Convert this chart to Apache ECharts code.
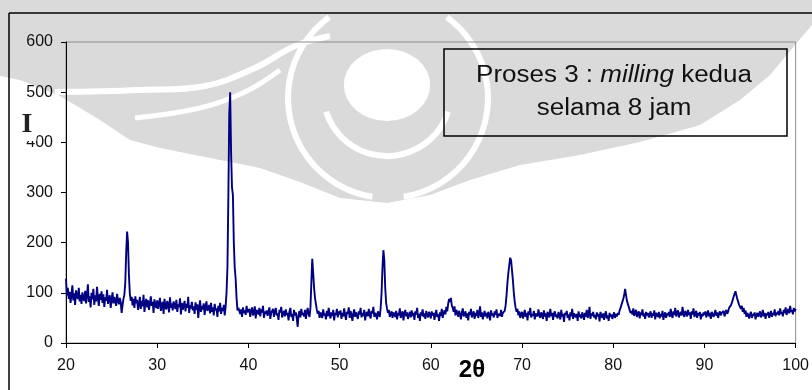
<!DOCTYPE html>
<html lang="id">
<head>
<meta charset="utf-8">
<title>Proses 3 : milling kedua selama 8 jam</title>
<script src="https://cdn.jsdelivr.net/npm/echarts@6/dist/echarts.min.js"></script>
<style>
    html, body { margin: 0; padding: 0; background: #fff; }
    #main { width: 812px; height: 390px; }
</style>
</head>
<body>
<div id="main"></div>
<script>
    // scan setting (2theta, degree)
    var scanStart = 20;
    var scanStep = 0.1;

    // intensity, one array per 10 degrees
    var int20 = [
        128, 95, 110, 88, 102, 80, 97, 115, 85, 99, 76, 105, 92, 88, 110, 83, 96, 78, 101, 90,
        84, 104, 79, 96, 117, 82, 93, 71, 100, 87, 108, 76, 95, 83, 112, 89, 74, 98, 86, 103,
        80, 97, 72, 91, 84, 106, 78, 88, 95, 70, 86, 101, 79, 92, 83, 74, 98, 85, 77, 90,
        82, 60, 75, 88, 96, 120, 180, 222, 200, 135, 98, 84, 92, 75, 88, 70, 93, 79, 86, 66,
        77, 92, 68, 84, 73, 96, 62, 80, 88, 71, 85, 66, 79, 93, 74, 82, 60, 87, 76, 70
    ];
    var int30 = [
        85, 68, 78, 90, 64, 75, 82, 58, 88, 72, 67, 84, 76, 61, 91, 70, 79, 65, 83, 74,
        68, 86, 62, 77, 72, 89, 57, 80, 66, 74, 84, 63, 78, 70, 92, 60, 75, 69, 82, 65,
        73, 58, 81, 66, 77, 50, 70, 85, 62, 74, 67, 79, 56, 72, 83, 64, 69, 76, 59, 80,
        62, 71, 55, 78, 65, 69, 52, 74, 63, 80, 58, 70, 64, 76, 55, 72, 100, 150, 290, 455,
        500, 380, 310, 295, 200, 150, 128, 90, 65, 70, 73, 58, 67, 52, 71, 60, 65, 56, 74, 61
    ];
    var int40 = [
        58, 68, 52, 64, 71, 55, 60, 73, 49, 66, 62, 57, 70, 53, 67, 61, 74, 50, 63, 58,
        65, 54, 62, 71, 48, 60, 57, 68, 52, 63, 70, 55, 59, 46, 66, 61, 72, 51, 58, 64,
        53, 67, 56, 60, 45, 63, 70, 52, 58, 44, 66, 55, 61, 49, 32, 57, 64, 51, 68, 56,
        60, 53, 66, 48, 62, 70, 57, 52, 70, 120, 168, 140, 110, 90, 78, 66, 58, 64, 50, 61,
        62, 50, 67, 55, 59, 47, 64, 53, 70, 57, 49, 61, 54, 66, 45, 60, 56, 68, 51, 63
    ];
    var int50 = [
        57, 65, 48, 60, 53, 69, 55, 46, 62, 58, 71, 50, 64, 56, 44, 59, 67, 52, 61, 55,
        48, 63, 57, 70, 51, 60, 54, 66, 45, 58, 62, 53, 68, 56, 49, 64, 59, 72, 52, 60,
        56, 47, 63, 58, 52, 70, 100, 150, 185, 165, 110, 80, 68, 60, 66, 52, 58, 63, 50, 61,
        58, 52, 64, 47, 60, 55, 69, 50, 57, 63, 45, 59, 66, 53, 61, 48, 56, 62, 51, 65,
        54, 60, 46, 63, 57, 70, 50, 58, 44, 61, 55, 67, 52, 59, 48, 64, 56, 51, 62, 57
    ];
    var int60 = [
        49, 63, 55, 60, 46, 58, 66, 52, 57, 44, 61, 54, 68, 50, 59, 65, 57, 72, 63, 78,
        88, 82, 90, 75, 70, 62, 73, 55, 66, 60, 52, 64, 58, 47, 61, 69, 53, 57, 63, 50,
        59, 45, 62, 56, 68, 51, 57, 63, 48, 60, 54, 66, 50, 58, 73, 52, 61, 47, 56, 64,
        53, 60, 49, 62, 57, 45, 65, 55, 59, 51, 63, 56, 67, 50, 58, 61, 54, 66, 52, 60,
        58, 64, 75, 95, 120, 140, 155, 170, 165, 145, 125, 100, 82, 70, 62, 68, 55, 63, 50, 58
    ];
    var int70 = [
        62, 49, 57, 66, 52, 60, 45, 63, 56, 70, 51, 58, 54, 64, 47, 59, 62, 53, 67, 55,
        50, 61, 56, 48, 65, 53, 59, 44, 62, 57, 51, 68, 54, 60, 46, 58, 63, 52, 57, 49,
        62, 55, 47, 66, 53, 58, 42, 60, 56, 64, 50, 57, 45, 61, 53, 68, 48, 59, 55, 51,
        58, 44, 63, 52, 57, 49, 61, 55, 46, 60, 53, 66, 50, 57, 72, 48, 59, 54, 62, 51,
        56, 47, 61, 53, 58, 43, 62, 55, 50, 59, 46, 57, 63, 49, 55, 44, 60, 52, 57, 48
    ];
    var int80 = [
        55, 61, 50, 58, 53, 60, 56, 65, 70, 76, 82, 88, 95, 108, 96, 84, 78, 72, 66, 60,
        64, 57, 69, 54, 60, 66, 52, 58, 63, 49, 61, 56, 67, 53, 59, 48, 62, 55, 60, 51,
        57, 63, 50, 59, 54, 65, 47, 60, 56, 52, 62, 49, 58, 53, 64, 46, 57, 61, 50, 59,
        55, 62, 52, 68, 57, 50, 63, 56, 70, 53, 60, 65, 51, 58, 62, 55, 72, 57, 52, 64,
        59, 53, 66, 56, 61, 48, 63, 57, 69, 52, 58, 64, 50, 60, 55, 62, 47, 58, 53, 61
    ];
    var int90 = [
        56, 63, 51, 58, 65, 53, 60, 48, 62, 57, 52, 59, 66, 54, 61, 50, 58, 63, 55, 60,
        57, 64, 53, 60, 66, 58, 63, 70, 68, 75, 80, 86, 92, 98, 103, 95, 88, 82, 76, 72,
        68, 74, 62, 70, 58, 65, 52, 60, 56, 49, 57, 62, 50, 58, 54, 61, 47, 56, 60, 52,
        58, 63, 51, 57, 66, 53, 60, 48, 59, 55, 62, 50, 57, 64, 52, 60, 56, 67, 53, 61,
        57, 64, 55, 69, 58, 62, 53, 66, 60, 71, 56, 63, 68, 59, 74, 62, 66, 57, 70, 63,
        68
    ];

    var xTicks = [20, 30, 40, 50, 60, 70, 80, 90, 100];
    var yTicks = [0, 100, 200, 300, 400, 500, 600];

    var intensity = int20.concat(int30, int40, int50, int60, int70, int80, int90);
    var pattern = intensity.map(function (v, i) {
        return [Math.round((scanStart + i * scanStep) * 10) / 10, v];
    });

    var gray = '#dadada';
    var font = 'Liberation Sans, Arial, sans-serif';

    var myChart = echarts.init(document.getElementById('main'), null, {renderer: 'canvas'});
    var option = {
        animation: false,
        backgroundColor: '#fff',
        grid: {
            left: 66, right: 15, top: 42, bottom: 47,
            show: true, borderColor: '#8c8c8c', borderWidth: 1
        },
        xAxis: {
            type: 'value',
            min: xTicks[0], max: xTicks[xTicks.length - 1], interval: 10,
            axisLine: {lineStyle: {color: '#000', width: 1}},
            axisTick: {show: true, inside: false, length: 5, lineStyle: {color: '#000'}},
            axisLabel: {color: '#111', fontSize: 16, fontFamily: font, margin: 15},
            splitLine: {show: false}
        },
        yAxis: {
            type: 'value',
            min: yTicks[0], max: yTicks[yTicks.length - 1], interval: 100,
            axisLine: {show: true, lineStyle: {color: '#000', width: 1}},
            axisTick: {show: true, inside: false, length: 5, lineStyle: {color: '#000'}},
            axisLabel: {color: '#111', fontSize: 16, fontFamily: font, margin: 13},
            splitLine: {show: false}
        },
        graphic: [
            // faint logo watermark behind the chart
            {
                type: 'polygon', z: -10, silent: true,
                shape: {points: [[0, 0], [812, 0], [812, 25], [795, 45], [770, 75], [740, 100],
                    [700, 125], [640, 142], [580, 155], [520, 165], [470, 180], [430, 195],
                    [387, 203], [340, 198], [300, 182], [260, 168], [210, 158], [160, 148],
                    [130, 140], [100, 120], [60, 96], [20, 80], [0, 76]]},
                style: {fill: gray}
            },
            {
                type: 'circle', z: -9, silent: true, x: 387, y: 85, scaleX: 1.08, scaleY: 0.9,
                shape: {cx: 0, cy: 0, r: 40},
                style: {fill: '#fff'}
            },
            {
                type: 'arc', z: -9, silent: true,
                shape: {cx: 387, cy: 92, r: 64, startAngle: Math.PI * 0.1, endAngle: Math.PI * 0.9, clockwise: true},
                style: {stroke: '#fff', lineWidth: 6, fill: null}
            },
            {
                type: 'arc', z: -9, silent: true,
                shape: {cx: 388, cy: 98, r: 100, startAngle: Math.PI * 0.55, endAngle: Math.PI * 1.3, clockwise: true},
                style: {stroke: '#fff', lineWidth: 6, fill: null}
            },
            {
                type: 'arc', z: -9, silent: true,
                shape: {cx: 388, cy: 98, r: 100, startAngle: -Math.PI * 0.3, endAngle: Math.PI * 0.45, clockwise: true},
                style: {stroke: '#fff', lineWidth: 6, fill: null}
            },
            {
                type: 'polyline', z: -9, silent: true,
                shape: {points: [[55, 92], [140, 90], [205, 86], [255, 68], [295, 46], [330, 36]], smooth: 0.4},
                style: {stroke: '#fff', lineWidth: 6, fill: null}
            },
            {
                type: 'polyline', z: -9, silent: true,
                shape: {points: [[135, 118], [200, 108], [245, 92], [280, 70]], smooth: 0.4},
                style: {stroke: '#fff', lineWidth: 5, fill: null}
            },
            // outer frame
            {
                type: 'line', z: 5, silent: true,
                shape: {x1: 9, y1: 13, x2: 812, y2: 13},
                style: {stroke: '#000', lineWidth: 1.5}
            },
            {
                type: 'line', z: 5, silent: true,
                shape: {x1: 9, y1: 13, x2: 9, y2: 390},
                style: {stroke: '#000', lineWidth: 1.5}
            },
            // note box
            {
                type: 'rect', z: 20, silent: true,
                shape: {x: 444, y: 49, width: 343, height: 87},
                style: {fill: null, stroke: '#000', lineWidth: 1.5}
            },
            {
                type: 'text', z: 21, silent: true,
                x: 614, y: 92, scaleX: 1.13,
                style: {
                    x: 0, y: 0,
                    text: '{n|Proses 3 : }{i|milling}{n| kedua}\n{n|selama 8 jam}',
                    align: 'center', verticalAlign: 'middle',
                    textAlign: 'center', textVerticalAlign: 'middle',
                    rich: {
                        n: {fontSize: 23, fontFamily: font, fill: '#111', color: '#111', lineHeight: 33},
                        i: {fontSize: 23, fontFamily: font, fontStyle: 'italic', fill: '#111', color: '#111', lineHeight: 33}
                    }
                }
            },
            // axis titles
            {
                type: 'text', z: 21, silent: true,
                style: {
                    x: 27, y: 125, text: 'I',
                    font: 'bold 28px "Liberation Serif", "Times New Roman", serif',
                    fill: '#222',
                    align: 'center', verticalAlign: 'middle',
                    textAlign: 'center', textVerticalAlign: 'middle',
                    backgroundColor: '#fff', padding: [0, 4, 4, 4]
                }
            },
            {
                type: 'text', z: 21, silent: true,
                style: {
                    x: 472, y: 370, text: '2θ',
                    font: 'bold 24px "Liberation Sans", Arial, sans-serif',
                    fill: '#000',
                    align: 'center', verticalAlign: 'middle',
                    textAlign: 'center', textVerticalAlign: 'middle'
                }
            }
        ],
        series: [{
            type: 'line',
            data: pattern,
            showSymbol: false,
            symbol: 'none',
            lineStyle: {color: '#000080', width: 1.9},
            z: 3
        }]
    };
    myChart.setOption(option);
</script>
</body>
</html>
